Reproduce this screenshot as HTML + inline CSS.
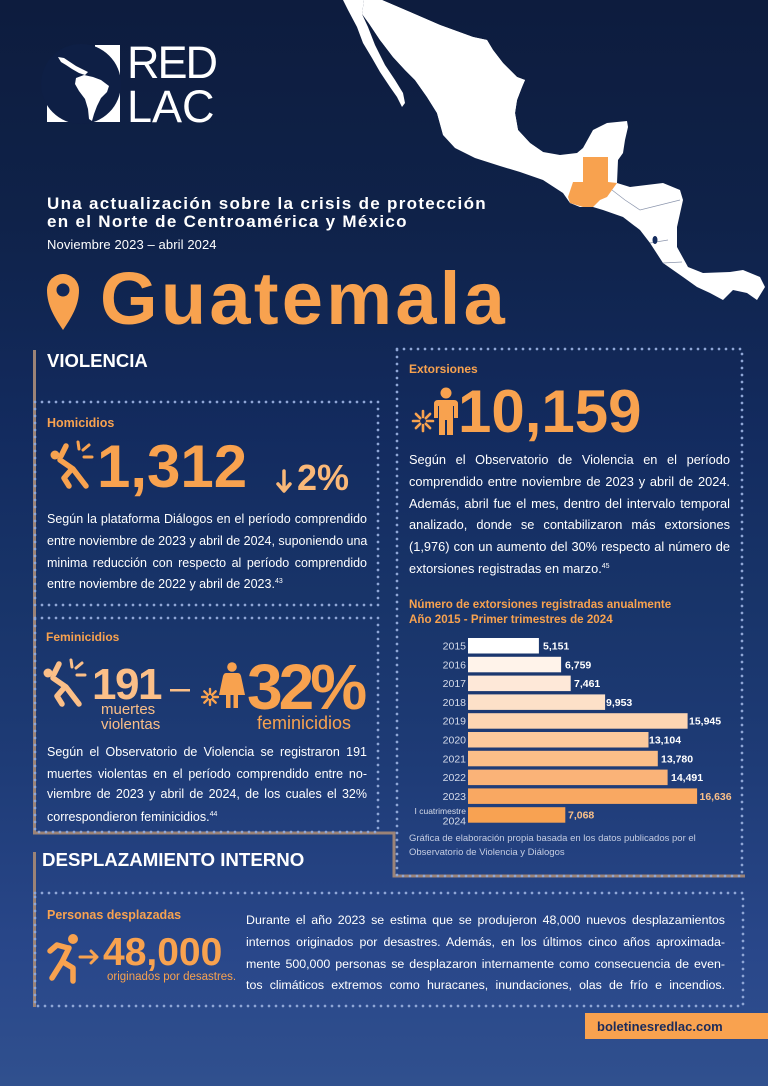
<!DOCTYPE html>
<html lang="es"><head><meta charset="utf-8"><title>Guatemala</title>
<style>
*{margin:0;padding:0;box-sizing:border-box}
html,body{width:768px;height:1086px;overflow:hidden}
body{position:relative;background:linear-gradient(180deg,#0d1c3e 0%,#0f2249 20%,#132b5f 40%,#183469 55%,#1e3b76 70%,#29478a 88%,#30508e 100%);font-family:"Liberation Sans",Arial,sans-serif;color:#fff}
.a{position:absolute;white-space:nowrap;line-height:1}
.p{position:absolute;white-space:nowrap;line-height:20px;text-align:justify;text-align-last:justify;color:#fff}
.l{text-align:left;text-align-last:left}
.o{color:#f8a24f}
.k{color:#fbbf88}
.b{font-weight:bold}
sup{font-size:7px;vertical-align:5px;line-height:0}
svg{position:absolute;left:0;top:0}
</style></head><body>
<svg width="768" height="1086" viewBox="0 0 768 1086" font-family="Liberation Sans, Arial, sans-serif">
  <!-- Map: Baja -->
  <path fill="#fff" d="M343,0 L348,10 L357,27 L363,43 L372,58 L380,72 L390,87 L397,97 L402,107 L405,103 L403,93 L395,80 L385,65 L375,45 L368,27 L362,14 L364,0 Z"/>
  <!-- Map: mainland + Central America -->
  <path fill="#fff" d="M364,0 L362,14 L370,25 L380,40 L393,57 L405,70 L415,80 L427,97 L437,113 L443,135 L455,148 L475,158 L500,166 L520,172 L543,180 L563,193 L570,203 L580,207 L593,207 L603,210 L623,217 L640,230 L650,243 L663,263 L683,277 L697,287 L710,293 L723,300 L733,290 L747,293 L757,300 L765,287 L760,277 L743,270 L730,272 L703,273 L688,267 L677,247 L677,227 L683,200 L680,190 L663,183 L630,187 L617,183 L618,160 L623,153 L625,140 L628,127 L627,121 L607,123 L593,130 L583,148 L577,153 L560,155 L543,152 L530,143 L518,130 L515,113 L517,100 L522,87 L525,80 L517,77 L503,63 L493,50 L487,40 L473,37 L440,25 L410,12 L382,0 Z"/>
  <!-- safety fill of northern mainland -->
  <path fill="#fff" d="M366,0 L382,0 L410,12 L440,25 L473,37 L487,40 L493,50 L503,63 L517,77 L525,80 L522,87 L517,100 L515,113 L518,130 L530,143 L543,152 L520,165 L475,157 L455,147 L443,134 L437,113 L427,97 L415,80 L405,70 L393,57 L380,40 L370,25 L364,14 Z"/>
  <path fill="#f8a24f" d="M583,157 L608,157 L608,182 L617,183 L612,190 L607,197 L600,200 L593,207 L583,207 L570,203 L568,197 L573,182 L583,182 Z"/>
  <path fill="none" stroke="#8c96ad" stroke-width="0.7" d="M612,190 L625,200 L640,210 L660,205 L680,200 M650,243 L668,240 M663,263 L682,262"/>
  <ellipse cx="655" cy="240" rx="2.5" ry="4" fill="#142c5e"/>

  <!-- Logo -->
  <rect x="95" y="45" width="25" height="77" fill="#fff"/>
  <rect x="47" y="102" width="73" height="20" fill="#fff"/>
  <circle cx="81" cy="84" r="40" fill="#0e1f45"/>
  <path fill="#fff" d="M58,57 L64,58 L70,62 L76,66 L82,69 L88,72 L85,75 L79,73 L72,69 L66,65 L61,62 Z"/>
  <path fill="#fff" d="M76,78 L84,75 L93,77 L101,80 L109,86 L107,92 L101,98 L97,106 L94,114 L92,121 L89,119 L88,109 L85,99 L79,91 L75,84 Z"/>

  <!-- Pin -->
  <path d="M63,330 C55,318 47,306 47,290 A16,16 0 0 1 79,290 C79,306 71,318 63,330 Z" fill="#f8a24f"/>
  <circle cx="63" cy="290" r="6.5" fill="#112757"/>

  <!-- Brown frame lines -->
  <path d="M34.5,350 V833 H394 V876 H745" fill="none" stroke="#9b8377" stroke-width="3"/>
  <path d="M34.5,852 V1007" fill="none" stroke="#9b8377" stroke-width="3"/>

  <!-- Dotted boxes -->
  <g fill="none" stroke="#8fa6d6" stroke-width="2.7" stroke-linecap="round" stroke-dasharray="0 7">
    <path d="M35,402 H378 V605 H35 Z"/>
    <path d="M35,618 H378 V832 H35 Z"/>
    <path d="M397,349 H742 V876 H397 Z"/>
    <path d="M35,893 H743 V1006 H35 Z"/>
  </g>

  <!-- Homicidios icon -->
  <g stroke="#f8a24f" stroke-width="5.5" stroke-linecap="round" stroke-linejoin="round" fill="none">
    <path d="M61,456 L66,446"/>
    <path d="M60,460 L73,469 L86,486"/>
    <path d="M71,470 L64,478 L69,486"/>
    <path d="M78,442 L79,449 M83,450 L89,445 M84,457 L92,457" stroke-width="3"/>
  </g>
  <circle cx="55" cy="455" r="4.5" fill="#f8a24f"/>
  <path d="M284,471 V490 M278,484 L284,491 L290,484" stroke="#fab878" stroke-width="3.5" fill="none" stroke-linecap="round" stroke-linejoin="round"/>

  <!-- Extorsiones icon -->
  <g stroke="#f8a24f" stroke-width="2.6" stroke-linecap="round">
    <path d="M427,421 H433 M425.8,423.8 L430.1,428.1 M423,425 V431 M420.2,423.8 L415.9,428.1 M419,421 H413 M420.2,418.2 L415.9,413.9 M423,417 V411 M425.8,418.2 L430.1,413.9"/>
  </g>
  <circle cx="446" cy="393" r="5.5" fill="#f8a24f"/>
  <path fill="#f8a24f" d="M438,400 H454 Q458,400 458,404 V418 H454 V406 H453 V435 H447 V420 H445 V435 H439 V406 H438 V418 H434 V404 Q434,400 438,400 Z"/>

  <!-- Feminicidios icons -->
  <g transform="translate(-7,218)">
    <g stroke="#fbbf88" stroke-width="5.5" stroke-linecap="round" stroke-linejoin="round" fill="none">
      <path d="M61,456 L66,446"/>
      <path d="M60,460 L73,469 L86,486"/>
      <path d="M71,470 L64,478 L69,486"/>
      <path d="M78,442 L79,449 M83,450 L89,445 M84,457 L92,457" stroke-width="3"/>
    </g>
    <circle cx="55" cy="455" r="4.5" fill="#fbbf88"/>
  </g>
  <rect x="170" y="689" width="20" height="2.5" fill="#fbbf88"/>
  <g stroke="#f8a24f" stroke-width="2.4" stroke-linecap="round">
    <path d="M213,697 H218 M212.1,699.1 L215.7,702.7 M210,700 V705 M207.9,699.1 L204.3,702.7 M207,697 H202 M207.9,694.9 L204.3,691.3 M210,694 V689 M212.1,694.9 L215.7,691.3"/>
  </g>
  <circle cx="232" cy="667" r="4.8" fill="#f8a24f"/>
  <path fill="#f8a24f" d="M226,673 H238 Q240,673 241,676 L245,695 H219 L223,676 Q224,673 226,673 Z"/>
  <rect x="226" y="694" width="4.5" height="14" fill="#f8a24f"/>
  <rect x="233.5" y="694" width="4.5" height="14" fill="#f8a24f"/>

  <!-- Runner icon -->
  <circle cx="73" cy="939" r="5" fill="#f8a24f"/>
  <g stroke="#f8a24f" stroke-width="5.5" stroke-linecap="round" stroke-linejoin="round" fill="none">
    <path d="M69,948 L62,962"/>
    <path d="M68,948 L57,945 L50,951"/>
    <path d="M62,962 L52,978"/>
    <path d="M63,962 L73,968 L73,981"/>
  </g>
  <path d="M80,957 H97 M91,951 L97,957 L91,963" stroke="#f8a24f" stroke-width="3" fill="none" stroke-linecap="round" stroke-linejoin="round"/>

  <!-- Bar chart -->
  <g>
    <rect x="468" y="638" width="70.9" height="15.5" fill="#ffffff"/>
    <rect x="468" y="656.8" width="93.1" height="15.5" fill="#fff3ea"/>
    <rect x="468" y="675.6" width="102.7" height="15.5" fill="#fee8d8"/>
    <rect x="468" y="694.4" width="137.1" height="15.5" fill="#fde0c8"/>
    <rect x="468" y="713.2" width="219.6" height="15.5" fill="#fdd5b2"/>
    <rect x="468" y="732" width="180.5" height="15.5" fill="#fcc99c"/>
    <rect x="468" y="750.8" width="189.8" height="15.5" fill="#fbbe88"/>
    <rect x="468" y="769.6" width="199.6" height="15.5" fill="#fab378"/>
    <rect x="468" y="788.4" width="229.1" height="15.5" fill="#f9a862"/>
    <rect x="468" y="807.2" width="97.3" height="15.5" fill="#f8a252"/>
  </g>
  <g font-size="10.5" fill="#d7dcea" text-anchor="end">
    <text x="466" y="649.5">2015</text>
    <text x="466" y="668.3">2016</text>
    <text x="466" y="687.1">2017</text>
    <text x="466" y="705.9">2018</text>
    <text x="466" y="724.7">2019</text>
    <text x="466" y="743.5">2020</text>
    <text x="466" y="762.3">2021</text>
    <text x="466" y="781.1">2022</text>
    <text x="466" y="799.9">2023</text>
    <text x="466" y="814" font-size="8.5">I cuatrimestre</text>
    <text x="466" y="824.5">2024</text>
  </g>
  <g font-size="10.5" font-weight="bold" fill="#ffffff">
    <text x="543" y="649.5">5,151</text>
    <text x="565" y="668.3">6,759</text>
    <text x="574" y="687.1">7,461</text>
    <text x="606" y="705.9">9,953</text>
    <text x="689" y="724.7">15,945</text>
    <text x="649" y="743.5">13,104</text>
    <text x="661" y="762.3">13,780</text>
    <text x="671" y="781.1">14,491</text>
    <text x="699.5" y="799.9" fill="#fac089">16,636</text>
    <text x="568" y="818.7" fill="#fac089">7,068</text>
  </g>
</svg>

<!-- Logo text -->
<div class="a" style="left:127px;top:40px;font-size:45px;letter-spacing:-2px">RED</div>
<div class="a" style="left:127px;top:84px;font-size:45px">LAC</div>

<!-- Header -->
<div class="a b" style="left:47px;top:195px;font-size:17px;letter-spacing:1.3px">Una actualización sobre la crisis de protección</div>
<div class="a b" style="left:47px;top:213.3px;font-size:17px;letter-spacing:1.3px">en el Norte de Centroamérica y México</div>
<div class="a" style="left:47px;top:238.3px;font-size:13px;letter-spacing:0.1px">Noviembre 2023 – abril 2024</div>
<div class="a b o" style="left:100px;top:262px;font-size:74px;letter-spacing:3.3px">Guatemala</div>

<!-- Violencia -->
<div class="a b" style="left:47px;top:352.3px;font-size:18.5px">VIOLENCIA</div>

<div class="a b o" style="left:47px;top:417.4px;font-size:12.5px">Homicidios</div>
<div class="a b o" style="left:97px;top:437.2px;font-size:60px">1,312</div>
<div class="a b" style="left:297px;top:459.5px;font-size:36px;color:#fab878">2%</div>
<div class="p" style="left:47px;top:509.1px;width:320px;font-size:12.5px">Según la plataforma Diálogos en el período comprendido</div>
<div class="p" style="left:47px;top:531.1px;width:320px;font-size:12.5px">entre noviembre de 2023 y abril de 2024, suponiendo una</div>
<div class="p" style="left:47px;top:553.1px;width:320px;font-size:12.5px">minima reducción con respecto al período comprendido</div>
<div class="p l" style="left:47px;top:574.1px;width:320px;font-size:12.5px">entre noviembre de 2022 y abril de 2023.<sup>43</sup></div>

<div class="a b o" style="left:46px;top:631.1px;font-size:12px">Feminicidios</div>
<div class="a b k" style="left:92px;top:662.7px;font-size:44px;letter-spacing:-1.5px">191</div>
<div class="a k" style="left:101px;top:702.3px;font-size:15px">muertes</div>
<div class="a k" style="left:101px;top:716.6px;font-size:15px">violentas</div>
<div class="a b o" style="left:247px;top:654.8px;font-size:64px;letter-spacing:-4px">32%</div>
<div class="a o" style="left:257px;top:714.1px;font-size:18px">feminicidios</div>
<div class="p" style="left:47px;top:741.6px;width:320px;font-size:12.5px">Según el Observatorio de Violencia se registraron 191</div>
<div class="p" style="left:47px;top:763.6px;width:320px;font-size:12.5px">muertes violentas en el período comprendido entre no-</div>
<div class="p" style="left:47px;top:784.1px;width:320px;font-size:12.5px">viembre de 2023 y abril de 2024, de los cuales el 32%</div>
<div class="p l" style="left:47px;top:806.6px;width:320px;font-size:12.5px">correspondieron feminicidios.<sup>44</sup></div>

<!-- Extorsiones -->
<div class="a b o" style="left:409px;top:363.2px;font-size:12px">Extorsiones</div>
<div class="a b o" style="left:458px;top:381.9px;font-size:60px">10,159</div>
<div class="p" style="left:409px;top:449.6px;width:321px;font-size:12.8px">Según el Observatorio de Violencia en el período</div>
<div class="p" style="left:409px;top:471.6px;width:321px;font-size:12.8px">comprendido entre noviembre de 2023 y abril de 2024.</div>
<div class="p" style="left:409px;top:493.6px;width:321px;font-size:12.8px">Además, abril fue el mes, dentro del intervalo temporal</div>
<div class="p" style="left:409px;top:515.1px;width:321px;font-size:12.8px">analizado, donde se contabilizaron más extorsiones</div>
<div class="p" style="left:409px;top:536.6px;width:321px;font-size:12.8px">(1,976) con un aumento del 30% respecto al número de</div>
<div class="p l" style="left:409px;top:558.6px;width:321px;font-size:12.8px">extorsiones registradas en marzo.<sup>45</sup></div>

<div class="a b o" style="left:409px;top:599.2px;font-size:11.6px">Número de extorsiones registradas anualmente</div>
<div class="a b o" style="left:409px;top:613.5px;font-size:11.6px">Año 2015 - Primer trimestres de 2024</div>
<div class="a" style="left:409px;top:834.2px;font-size:9.5px;color:#c5cde2">Gráfica de elaboración propia basada en los datos publicados por el</div>
<div class="a" style="left:409px;top:848.2px;font-size:9.5px;color:#c5cde2">Observatorio de Violencia y Diálogos</div>

<!-- Desplazamiento -->
<div class="a b" style="left:42px;top:851.2px;font-size:18.7px">DESPLAZAMIENTO INTERNO</div>
<div class="a b o" style="left:47px;top:909.4px;font-size:12.5px">Personas desplazadas</div>
<div class="a b o" style="left:103px;top:933px;font-size:39px">48,000</div>
<div class="a o" style="left:107px;top:972px;font-size:11.5px">originados por desastres.</div>
<div class="p" style="left:246px;top:910.1px;width:479px;font-size:12.4px">Durante el año 2023 se estima que se produjeron 48,000 nuevos desplazamientos</div>
<div class="p" style="left:246px;top:931.6px;width:479px;font-size:12.4px">internos originados por desastres. Además, en los últimos cinco años aproximada-</div>
<div class="p" style="left:246px;top:953.6px;width:479px;font-size:12.4px">mente 500,000 personas se desplazaron internamente como consecuencia de even-</div>
<div class="p" style="left:246px;top:975.1px;width:479px;font-size:12.4px">tos climáticos extremos como huracanes, inundaciones, olas de frío e incendios.</div>

<!-- Footer -->
<div style="position:absolute;left:585px;top:1013px;width:183px;height:26px;background:#f9a24f"></div>
<div class="a b" style="left:597px;top:1019.5px;font-size:13px;color:#1c2b5a">boletinesredlac.com</div>
</body></html>
